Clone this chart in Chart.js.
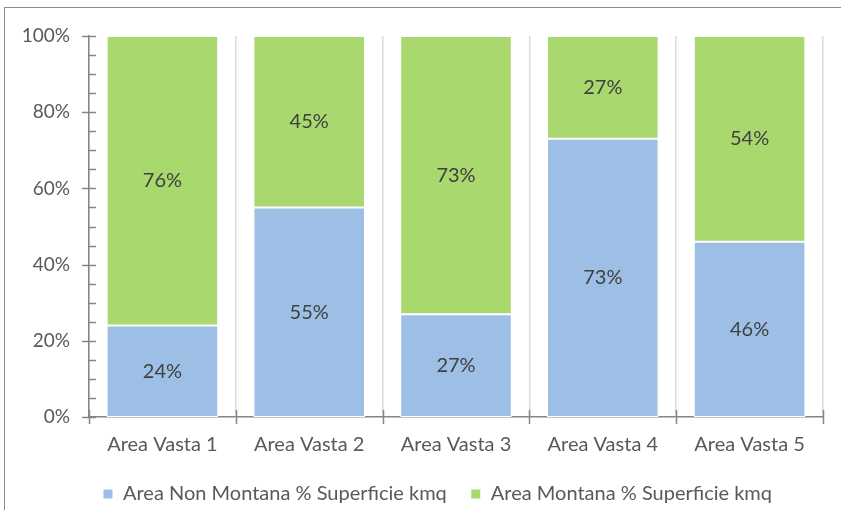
<!DOCTYPE html>
<html>
<head>
<meta charset="utf-8">
<script src="https://cdn.jsdelivr.net/npm/chart.js@4.4.1/dist/chart.umd.min.js"></script>
<style>
  body { margin: 0; background: #fff; }
  #wrap { position: relative; width: 841px; height: 510px; overflow: hidden; }
  #frame { position: absolute; left: 4px; top: 7px; width: 900px; height: 600px;
           border-left: 1.5px solid #8c8c8c; border-top: 1.5px solid #8c8c8c; pointer-events: none; }
</style>
</head>
<body>
<div id="wrap">
  <!-- il grafico originale prosegue oltre il bordo destro: la tela è più larga e viene ritagliata -->
  <canvas id="grafico" width="875" height="510"></canvas>
  <div id="frame"></div>
</div>
<script>
// Dati
const categorie = ["Area Vasta 1", "Area Vasta 2", "Area Vasta 3", "Area Vasta 4", "Area Vasta 5"];
const nonMontana = [24, 55, 27, 73, 46];
const montana = [76, 45, 73, 27, 54];
const etichetteY = ["0%", "20%", "40%", "60%", "80%", "100%"];

const FONT = "Lato, 'Open Sans', sans-serif";
const GRIGIO_ASSE = "#868686";

// Etichette dentro le barre
const etichetteBarre = {
  id: "etichetteBarre",
  afterDatasetsDraw(chart) {
    const ctx = chart.ctx;
    ctx.save();
    ctx.font = "20px " + FONT;
    ctx.fillStyle = "#404040";
    ctx.textAlign = "center";
    ctx.textBaseline = "middle";
    chart.data.datasets.forEach((ds, i) => {
      chart.getDatasetMeta(i).data.forEach((el, j) => {
        ctx.fillText(ds.data[j] + "%", el.x, (el.y + el.base) / 2);
      });
    });
    ctx.restore();
  }
};

// Tacche degli assi (principali e secondarie)
const tacche = {
  id: "tacche",
  afterDraw(chart) {
    const ctx = chart.ctx;
    const y = chart.scales.y;
    const x = chart.scales.x;
    ctx.save();
    ctx.strokeStyle = GRIGIO_ASSE;
    ctx.lineWidth = 1.5;
    for (let v = 0; v <= 100; v += 5) {
      const py = Math.round(y.getPixelForValue(v)) + 0.5;
      const major = v % 20 === 0;
      ctx.beginPath();
      ctx.moveTo(y.right - (major ? 7 : 0), py);
      ctx.lineTo(y.right + 7, py);
      ctx.stroke();
    }
    for (let i = 0; i <= categorie.length; i++) {
      const px = Math.round(x.getPixelForValue(i - 0.5)) + 0.5;
      ctx.beginPath();
      ctx.moveTo(px, x.top - 7);
      ctx.lineTo(px, x.top + 7);
      ctx.stroke();
    }
    ctx.restore();
  }
};

new Chart(document.getElementById("grafico"), {
  type: "bar",
  data: {
    labels: categorie,
    datasets: [
      {
        label: "Area Non Montana % Superficie kmq",
        data: nonMontana,
        backgroundColor: "#9dbfe6",
        borderColor: "#ffffff",
        borderWidth: 1,
        borderSkipped: false,
        barPercentage: 0.76,
        categoryPercentage: 1
      },
      {
        label: "Area Montana % Superficie kmq",
        data: montana,
        backgroundColor: "#a9d86e",
        borderColor: "#ffffff",
        borderWidth: 1,
        borderSkipped: false,
        barPercentage: 0.76,
        categoryPercentage: 1
      }
    ]
  },
  options: {
    responsive: false,
    animation: false,
    devicePixelRatio: 1,
    layout: { padding: { left: 0, right: 0, top: 36, bottom: -4 } },
    scales: {
      x: {
        stacked: true,
        grid: { color: "#d9d9d9", lineWidth: 1.5, drawTicks: false },
        border: { color: GRIGIO_ASSE, width: 1.5 },
        ticks: { color: "#595959", font: { family: FONT, size: 20 }, padding: 16 },
        afterFit(scale) { scale.height = 43; }
      },
      y: {
        stacked: true,
        min: 0,
        max: 100,
        grid: { display: false, drawTicks: false },
        border: { color: GRIGIO_ASSE, width: 1.5 },
        ticks: {
          stepSize: 20,
          color: "#595959",
          font: { family: FONT, size: 19 },
          padding: 19,
          callback: (v) => etichetteY[v / 20]
        },
        afterFit(scale) { scale.width = 89; }
      },
      // spazio vuoto a destra dell'area del grafico
      spazioDx: {
        position: "right",
        grid: { display: false, drawTicks: false },
        border: { display: false },
        ticks: { display: false },
        afterFit(scale) { scale.width = 52; }
      }
    },
    plugins: {
      tooltip: { enabled: false },
      legend: {
        position: "bottom",
        labels: {
          color: "#595959",
          font: { family: FONT, size: 20 },
          boxWidth: 10,
          boxHeight: 10,
          padding: 24
        }
      }
    }
  },
  plugins: [etichetteBarre, tacche]
});
</script>
</body>
</html>
